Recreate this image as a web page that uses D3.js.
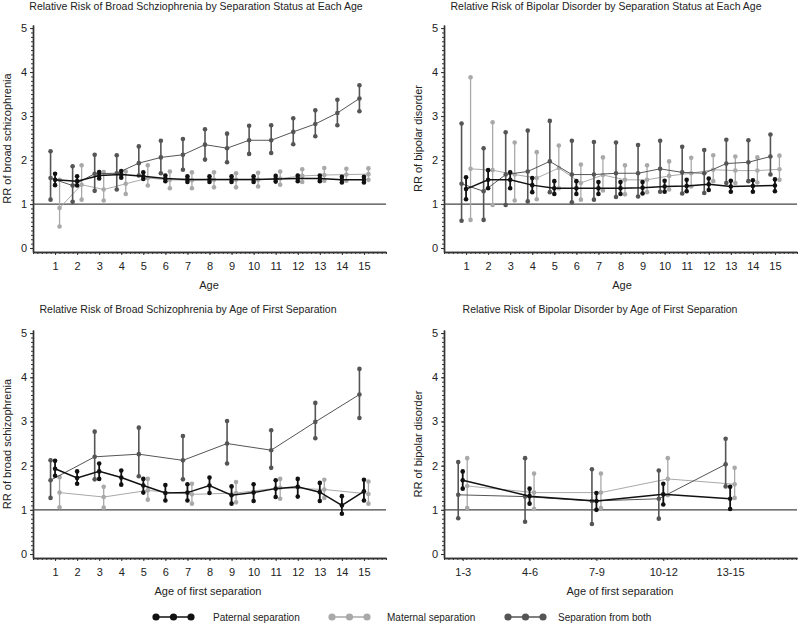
<!DOCTYPE html>
<html lang="en">
<head>
<meta charset="UTF-8">
<title>Relative risk by separation status</title>
<script src="https://d3js.org/d3.v7.min.js"></script>
<style>
  body { margin: 0; background: #fff; font-family: "Liberation Sans", Arial, sans-serif; }
  svg text { fill: #222; }
  .axis path, .axis line { stroke: #333; }
  .axis path { stroke-width: 1.4; }
  .axis text { font-size: 11px; fill: #222; }
</style>
</head>
<body>
<svg id="chart" width="800" height="624"></svg>
<script>
// x categories
const ages = [1, 2, 3, 4, 5, 6, 7, 8, 9, 10, 11, 12, 13, 14, 15];
const oddAges = [1, 3, 5, 7, 9, 11, 13, 15];
const ageGroups = ["1-3", "4-6", "7-9", "10-12", "13-15"];
const yTicks = [0, 1, 2, 3, 4, 5];
const seriesNames = ["Paternal separation", "Maternal separation", "Separation from both"];

// Panel 1: broad schizophrenia by separation status at each age
const schStatPat   = [1.55, 1.52, 1.65, 1.67, 1.63, 1.58, 1.56, 1.56, 1.56, 1.56, 1.57, 1.58, 1.58, 1.55, 1.55];
const schStatPatLo = [1.43, 1.42, 1.58, 1.60, 1.57, 1.52, 1.50, 1.50, 1.50, 1.50, 1.51, 1.52, 1.52, 1.49, 1.49];
const schStatPatHi = [1.69, 1.63, 1.73, 1.75, 1.72, 1.65, 1.63, 1.63, 1.63, 1.63, 1.64, 1.65, 1.65, 1.62, 1.62];
const schStatMat   = [0.91, 1.44, 1.33, 1.46, 1.59, 1.55, 1.54, 1.55, 1.55, 1.55, 1.58, 1.64, 1.66, 1.67, 1.68];
const schStatMatLo = [0.49, 1.10, 1.08, 1.23, 1.42, 1.36, 1.36, 1.38, 1.38, 1.40, 1.44, 1.50, 1.53, 1.53, 1.55];
const schStatMatHi = [1.55, 1.88, 1.73, 1.74, 1.88, 1.74, 1.72, 1.72, 1.70, 1.71, 1.74, 1.79, 1.82, 1.80, 1.81];
const schStatBoth   = [1.59, 1.42, 1.69, 1.70, 1.93, 2.06, 2.12, 2.35, 2.27, 2.45, 2.45, 2.64, 2.82, 3.07, 3.40];
const schStatBothLo = [1.10, 1.05, 1.30, 1.33, 1.65, 1.70, 1.78, 2.01, 1.95, 2.14, 2.16, 2.36, 2.54, 2.79, 3.11];
const schStatBothHi = [2.20, 1.86, 2.12, 2.11, 2.31, 2.44, 2.48, 2.70, 2.60, 2.78, 2.79, 2.95, 3.13, 3.37, 3.70];

// Panel 2: bipolar disorder by separation status at each age
const bipStatPat   = [1.34, 1.55, 1.55, 1.43, 1.36, 1.36, 1.36, 1.36, 1.37, 1.40, 1.41, 1.45, 1.40, 1.41, 1.42];
const bipStatPatLo = [1.11, 1.36, 1.36, 1.27, 1.23, 1.23, 1.23, 1.23, 1.24, 1.28, 1.29, 1.32, 1.28, 1.28, 1.29];
const bipStatPatHi = [1.61, 1.77, 1.72, 1.59, 1.52, 1.52, 1.50, 1.50, 1.50, 1.53, 1.55, 1.58, 1.53, 1.54, 1.56];
const bipStatMat   = [1.80, 1.77, 1.67, 1.59, 1.82, 1.48, 1.66, 1.55, 1.55, 1.64, 1.70, 1.78, 1.76, 1.76, 1.79];
const bipStatMatLo = [0.64, 0.98, 1.08, 1.11, 1.36, 1.10, 1.31, 1.22, 1.27, 1.33, 1.40, 1.52, 1.48, 1.49, 1.55];
const bipStatMatHi = [3.88, 2.86, 2.40, 2.18, 2.33, 1.90, 2.06, 1.88, 1.88, 1.97, 2.05, 2.11, 2.08, 2.06, 2.10];
const bipStatBoth   = [1.46, 1.29, 1.67, 1.74, 1.97, 1.67, 1.67, 1.70, 1.70, 1.80, 1.72, 1.70, 1.92, 1.95, 2.08];
const bipStatBothLo = [0.62, 0.64, 0.98, 1.06, 1.27, 1.04, 1.10, 1.16, 1.17, 1.28, 1.24, 1.25, 1.48, 1.52, 1.67];
const bipStatBothHi = [2.83, 2.27, 2.63, 2.67, 2.89, 2.44, 2.41, 2.40, 2.34, 2.44, 2.30, 2.23, 2.46, 2.45, 2.58];

// Panel 3: broad schizophrenia by age of first separation
const schFirstPat   = [1.93, 1.72, 1.87, 1.73, 1.55, 1.38, 1.39, 1.55, 1.33, 1.39, 1.48, 1.52, 1.40, 1.10, 1.42];
const schFirstPatLo = [1.77, 1.59, 1.70, 1.57, 1.39, 1.21, 1.21, 1.38, 1.14, 1.20, 1.29, 1.30, 1.20, 0.91, 1.21];
const schFirstPatHi = [2.11, 1.87, 2.05, 1.89, 1.70, 1.56, 1.58, 1.73, 1.53, 1.58, 1.67, 1.70, 1.61, 1.31, 1.68];
const schFirstMat   = [1.39, 1.29, 1.44, 1.35, 1.38, 1.50, 1.46, 1.36];
const schFirstMatLo = [1.06, 1.05, 1.23, 1.14, 1.17, 1.25, 1.27, 1.14];
const schFirstMatHi = [1.74, 1.52, 1.70, 1.59, 1.63, 1.70, 1.68, 1.64];
const schFirstBoth   = [1.67, 2.20, 2.26, 2.12, 2.50, 2.35, 2.99, 3.61];
const schFirstBothLo = [1.27, 1.69, 1.76, 1.69, 2.05, 1.95, 2.62, 3.08];
const schFirstBothHi = [2.12, 2.77, 2.86, 2.67, 3.01, 2.80, 3.42, 4.19];

// Panel 4: bipolar disorder by age of first separation
const bipFirstPat   = [1.67, 1.31, 1.20, 1.35, 1.25];
const bipFirstPatLo = [1.48, 1.14, 1.00, 1.12, 1.02];
const bipFirstPatHi = [1.87, 1.48, 1.38, 1.59, 1.52];
const bipFirstMat   = [1.54, 1.39, 1.39, 1.70, 1.58];
const bipFirstMatLo = [1.04, 1.02, 1.04, 1.33, 1.27];
const bipFirstMatHi = [2.17, 1.82, 1.82, 2.17, 1.95];
const bipFirstBoth   = [1.34, 1.30, 1.20, 1.25, 2.03];
const bipFirstBothLo = [0.81, 0.73, 0.68, 0.80, 1.53];
const bipFirstBothHi = [2.08, 2.17, 1.92, 1.89, 2.61];

const colPat = "#111111", colMat = "#a9a9a9", colBoth = "#555555";

const svg = d3.select("#chart");

function rows(xs, est, lo, hi) {
  return xs.map((x, i) => ({ x: x, est: est[i], lo: lo[i], hi: hi[i] }));
}

function drawPanel(p) {
  const g = svg.append("g");

  const x = d3.scaleLinear().domain(p.xDomain).range([p.left, p.right]);
  const y = d3.scaleLinear().domain([-0.09, 5.07]).range([p.bottom, p.top]);

  // minor ticks
  g.append("g")
    .attr("class", "axis")
    .attr("transform", "translate(0," + p.bottom + ")")
    .call(d3.axisBottom(x).tickValues(p.minorX).tickSize(2).tickSizeOuter(0).tickFormat(""));
  g.append("g")
    .attr("class", "axis")
    .attr("transform", "translate(" + p.left + ",0)")
    .call(d3.axisLeft(y).tickValues(d3.range(0, 50.5, 1).map(d => d / 10)).tickSize(2).tickSizeOuter(0).tickFormat(""));

  // major ticks
  g.append("g")
    .attr("class", "axis")
    .attr("transform", "translate(0," + p.bottom + ")")
    .call(d3.axisBottom(x).tickValues(p.xTicks).tickSize(3).tickSizeOuter(0).tickFormat(p.xFormat))
    .selectAll("text").attr("dy", "1.1em");
  g.append("g")
    .attr("class", "axis")
    .attr("transform", "translate(" + p.left + ",0)")
    .call(d3.axisLeft(y).tickValues(yTicks).tickSize(3).tickSizeOuter(0).tickFormat(d3.format("d")));

  // reference line at RR = 1
  g.append("line")
    .attr("x1", p.left).attr("x2", p.right)
    .attr("y1", y(1)).attr("y2", y(1))
    .attr("stroke", "#444").attr("stroke-width", 1.2);

  p.series.forEach(s => {
    const sx = d => x(d.x) + s.dx;
    g.append("path")
      .datum(s.data)
      .attr("fill", "none")
      .attr("stroke", s.color)
      .attr("stroke-width", s.lw)
      .attr("d", d3.line().x(sx).y(d => y(d.est)));

    g.selectAll(null).data(s.data).enter().append("line")
      .attr("x1", sx).attr("x2", sx)
      .attr("y1", d => y(d.lo)).attr("y2", d => y(d.hi))
      .attr("stroke", s.color).attr("stroke-width", s.bw);

    ["lo", "est", "hi"].forEach(k => {
      g.selectAll(null).data(s.data).enter().append("circle")
        .attr("cx", sx).attr("cy", d => y(d[k]))
        .attr("r", 2.3).attr("fill", s.color);
    });
  });

  g.append("text")
    .attr("x", p.titleX).attr("y", p.titleY)
    .attr("text-anchor", "middle").style("font-size", "10.5px")
    .text(p.title);

  g.append("text")
    .attr("transform", "translate(" + (p.left - 22) + "," + ((p.top + p.bottom) / 2) + ") rotate(-90)")
    .attr("text-anchor", "middle").style("font-size", "11px")
    .text(p.yLabel);

  g.append("text")
    .attr("x", p.xLabelX).attr("y", p.xLabelY)
    .attr("text-anchor", "middle").style("font-size", "11px")
    .text(p.xLabel);
}

const ageTicksMinor = d3.range(0, 80.5, 1).map(d => d / 5);

function statusSeries(pat, patLo, patHi, mat, matLo, matHi, both, bothLo, bothHi, matX, bothX, xs) {
  return [
    { data: rows(matX, mat, matLo, matHi), color: colMat, lw: 1, bw: 1.3, dx: 4.5 },
    { data: rows(bothX, both, bothLo, bothHi), color: colBoth, lw: 1, bw: 1.6, dx: -4.5 },
    { data: rows(xs, pat, patLo, patHi), color: colPat, lw: 1.5, bw: 1.8, dx: 0 }
  ];
}

drawPanel({
  left: 33, right: 386, top: 25, bottom: 252,
  xDomain: [0, 16], xTicks: ages, minorX: ageTicksMinor, xFormat: d => d,
  title: "Relative Risk of Broad Schziophrenia by Separation Status at Each Age", titleX: 196, titleY: 10,
  yLabel: "RR of broad schizophrenia",
  xLabel: "Age", xLabelX: 209, xLabelY: 289,
  series: statusSeries(schStatPat, schStatPatLo, schStatPatHi, schStatMat, schStatMatLo, schStatMatHi,
    schStatBoth, schStatBothLo, schStatBothHi, ages, ages, ages)
});

drawPanel({
  left: 444, right: 797, top: 25, bottom: 252,
  xDomain: [0, 16], xTicks: ages, minorX: ageTicksMinor, xFormat: d => d,
  title: "Relative Risk of Bipolar Disorder by Separation Status at Each Age", titleX: 606, titleY: 10,
  yLabel: "RR of bipolar disorder",
  xLabel: "Age", xLabelX: 622, xLabelY: 289,
  series: statusSeries(bipStatPat, bipStatPatLo, bipStatPatHi, bipStatMat, bipStatMatLo, bipStatMatHi,
    bipStatBoth, bipStatBothLo, bipStatBothHi, ages, ages, ages)
});

drawPanel({
  left: 33, right: 386, top: 330, bottom: 558,
  xDomain: [0, 16], xTicks: ages, minorX: ageTicksMinor, xFormat: d => d,
  title: "Relative Risk of Broad Schizophrenia by Age of First Separation", titleX: 188, titleY: 313,
  yLabel: "RR of broad schizophrenia",
  xLabel: "Age of first separation", xLabelX: 208, xLabelY: 595,
  series: statusSeries(schFirstPat, schFirstPatLo, schFirstPatHi, schFirstMat, schFirstMatLo, schFirstMatHi,
    schFirstBoth, schFirstBothLo, schFirstBothHi, oddAges, oddAges, ages)
});

const groupIdx = ageGroups.map((d, i) => i + 1);
drawPanel({
  left: 444, right: 797, top: 330, bottom: 558,
  xDomain: [0.72, 6], xTicks: groupIdx, minorX: d3.range(0, 80, 1).map(d => 0.72 + d / 15).filter(d => d <= 6),
  xFormat: d => ageGroups[d - 1],
  title: "Relative Risk of Bipolar Disorder by Age of First Separation", titleX: 600, titleY: 313,
  yLabel: "RR of bipolar disorder",
  xLabel: "Age of first separation", xLabelX: 620, xLabelY: 595,
  series: statusSeries(bipFirstPat, bipFirstPatLo, bipFirstPatHi, bipFirstMat, bipFirstMatLo, bipFirstMatHi,
    bipFirstBoth, bipFirstBothLo, bipFirstBothHi, groupIdx, groupIdx, groupIdx)
});

// legend
const legendMarkX = [156, 332, 508];
const legendTextX = [213, 387, 558];
const legendCols = [colPat, colMat, colBoth];
const legend = svg.append("g").attr("transform", "translate(0,617)");
seriesNames.forEach((name, i) => {
  const lg = legend.append("g").attr("transform", "translate(" + legendMarkX[i] + ",0)");
  lg.append("line").attr("x1", 0).attr("x2", 35).attr("stroke", legendCols[i]).attr("stroke-width", 1.5);
  [0, 17.5, 35].forEach(cx => lg.append("circle").attr("cx", cx).attr("r", 3.6).attr("fill", legendCols[i]));
  legend.append("text").attr("x", legendTextX[i]).attr("dy", "0.35em").style("font-size", "10px").text(name);
});
</script>
</body>
</html>
